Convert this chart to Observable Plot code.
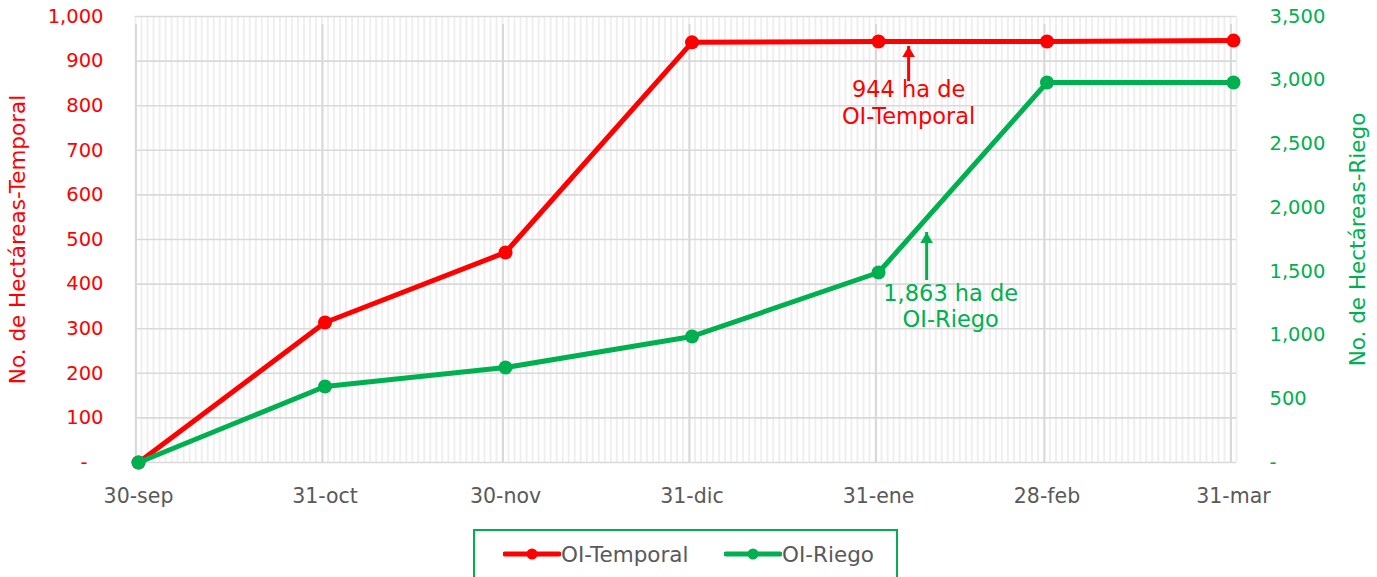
<!DOCTYPE html>
<html>
<head>
<meta charset="utf-8">
<script src="https://cdn.jsdelivr.net/npm/d3@7"></script>
<script src="https://cdn.jsdelivr.net/npm/@observablehq/plot@0.6"></script>
<style>
  body { margin: 0; background: #fff; font-family: "DejaVu Sans", sans-serif; }
  #wrap { position: relative; width: 1377px; height: 577px; overflow: hidden; }
  #legend { position: absolute; left: 473px; top: 529px; width: 421px; height: 60px;
            border: 2px solid #00b050; box-sizing: content-box; }
  .item { position: absolute; top: 10px; display: flex; align-items: center; font-size: 21.5px; color: #595959; }
  .item svg { display: block; }
</style>
</head>
<body>
<div id="wrap">
  <div id="chart"></div>
  <div id="legend"></div>
</div>
<script>
// ---- data ----
const dates = ["2020-09-30", "2020-10-31", "2020-11-30", "2020-12-31", "2021-01-31", "2021-02-28", "2021-03-31"];
const xLabels = ["30-sep", "31-oct", "30-nov", "31-dic", "31-ene", "28-feb", "31-mar"];
const temporal = [0, 314, 471, 942, 944, 944, 946];
const riego = [0, 596, 745, 989, 1491, 2982, 2982];
const leftTicks = [0, 100, 200, 300, 400, 500, 600, 700, 800, 900, 1000];
const rightTicks = [0, 500, 1000, 1500, 2000, 2500, 3000, 3500];
const seriesNames = ["OI-Temporal", "OI-Riego"];
const seriesColors = ["#ff0000", "#00b050"];
const axisTitles = ["No. de Hectáreas-Temporal", "No. de Hectáreas-Riego"];
// annotations (red in left units, green in right units)
const arrowDates = ["2021-02-05", "2021-02-08"];
const arrowFrom = [872, 1491];
const arrowTo = [933, 1805];
const noteDates = ["2021-02-05", "2021-02-12"];
const noteTop = [860, 1412];
const noteTexts = ["944 ha de\nOI-Temporal", "1,863 ha de\nOI-Riego"];

// ---- build ----
const k = 1000 / 3500; // right-axis units -> left-axis units
const parse = d3.utcParse("%Y-%m-%d");
const dts = dates.map(parse);
const tRows = dts.map((d, i) => ({date: d, v: temporal[i]}));
const rRows = dts.map((d, i) => ({date: d, v: riego[i] * k}));
const arrowRows = arrowDates.map((d, i) => ({
  date: parse(d),
  from: i === 0 ? arrowFrom[i] : arrowFrom[i] * k,
  to: i === 0 ? arrowTo[i] : arrowTo[i] * k,
  color: seriesColors[i]
}));
const noteRows = noteDates.map((d, i) => ({
  date: parse(d),
  y: i === 0 ? noteTop[i] : noteTop[i] * k,
  text: noteTexts[i],
  color: seriesColors[i]
}));
const dayTicks = d3.utcDay.range(parse("2020-09-30"), parse("2021-04-02"));
const fmt = d3.format(",");
const xDomain = [d3.utcHour.offset(dts[0], -12), d3.utcHour.offset(dts[dts.length - 1], 12)];

const chart = Plot.plot({
  width: 1377,
  height: 524,
  marginLeft: 135,
  marginRight: 141,
  marginTop: 16,
  marginBottom: 62,
  x: {type: "utc", domain: xDomain, label: null},
  y: {domain: [0, 1000], label: null},
  style: {fontFamily: "DejaVu Sans", fontSize: "19.5px", background: "white", overflow: "visible"},
  marks: [
    Plot.gridX(dayTicks, {stroke: "#efefef", strokeOpacity: 1, strokeWidth: 2, dx: -3}),
    Plot.gridY(leftTicks, {stroke: "#d9d9d9", strokeOpacity: 1, strokeWidth: 1.6}),
    Plot.ruleX(dts, {y1: 0, y2: 1000, stroke: "#d9d9d9", strokeWidth: 2, insetBottom: -8, dx: -2.5}),
    Plot.axisY(leftTicks, {anchor: "left", tickSize: 0, tickPadding: 32, fill: seriesColors[0], label: null,
      tickFormat: d => d === 0 ? "-\u2002\u00a0" : fmt(d)}),
    Plot.axisY(rightTicks.map(v => v * k), {anchor: "right", tickSize: 0, tickPadding: 33, fill: seriesColors[1], label: null,
      tickFormat: d => { const v = Math.round(d / k); return v === 0 ? "-" : fmt(v); }}),
    Plot.axisX(dts, {tickSize: 0, tickPadding: 26, fill: "#595959", label: null, fontSize: 20.5,
      tickFormat: d => xLabels[dts.findIndex(t => +t === +d)]}),
    Plot.text([axisTitles[0]], {frameAnchor: "left", dx: -117, rotate: -90, fill: seriesColors[0], fontSize: 21.5, textAnchor: "middle"}),
    Plot.text([axisTitles[1]], {frameAnchor: "right", dx: 122, rotate: -90, fill: seriesColors[1], fontSize: 21.5, textAnchor: "middle"}),
    Plot.line(tRows, {x: "date", y: "v", stroke: seriesColors[0], strokeWidth: 5}),
    Plot.dot(tRows, {x: "date", y: "v", r: 7, fill: seriesColors[0]}),
    Plot.line(rRows, {x: "date", y: "v", stroke: seriesColors[1], strokeWidth: 5}),
    Plot.dot(rRows, {x: "date", y: "v", r: 7, fill: seriesColors[1]}),
    Plot.ruleX(arrowRows, {x: "date", y1: "from", y2: "to", stroke: "color", strokeWidth: 3, insetTop: 8}),
    Plot.dot(arrowRows, {x: "date", y: "to", symbol: "triangle2", r: 6, fill: "color", stroke: null, dy: 7}),
    Plot.text(noteRows, {x: "date", y: "y", text: "text", fill: "color", lineAnchor: "top", fontSize: 22.5, lineHeight: 1.16})
  ]
});
document.getElementById("chart").appendChild(chart);

// ---- legend ----
const legend = d3.select("#legend");
const legendLeft = [28, 249];
seriesNames.forEach((name, i) => {
  const it = legend.append("div").attr("class", "item").style("left", legendLeft[i] + "px");
  const s = it.append("svg").attr("width", 58).attr("height", 26);
  s.append("line").attr("x1", 2).attr("x2", 56).attr("y1", 13).attr("y2", 13)
    .attr("stroke", seriesColors[i]).attr("stroke-width", 5).attr("stroke-linecap", "round");
  s.append("circle").attr("cx", 29).attr("cy", 13).attr("r", 5.5).attr("fill", seriesColors[i]);
  it.append("span").text(name);
});
</script>
</body>
</html>
